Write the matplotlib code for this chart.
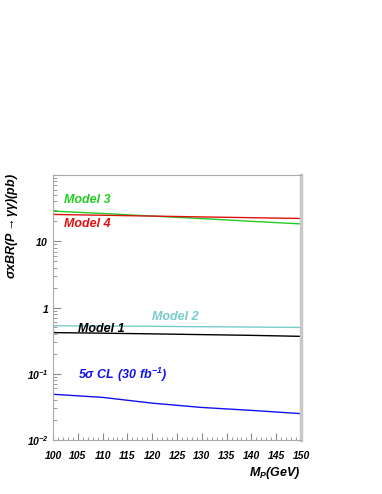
import numpy as np
import matplotlib
matplotlib.use('Agg')
import matplotlib.pyplot as plt
from matplotlib.ticker import FixedLocator, MultipleLocator, LogLocator, NullFormatter

plt.rcParams['font.family'] = ['Liberation Sans', 'DejaVu Sans']
plt.rcParams['mathtext.fontset'] = 'custom'
plt.rcParams['mathtext.bf'] = 'Liberation Sans:italic:bold'
plt.rcParams['mathtext.rm'] = 'Liberation Sans:italic:bold'
plt.rcParams['mathtext.it'] = 'Liberation Sans:italic:bold'

# data
masses = [100, 110, 120, 130, 140, 150]
model1 = [0.418, 0.41, 0.40, 0.39, 0.38, 0.367]
model2 = [0.53, 0.525, 0.52, 0.513, 0.507, 0.50]
model3 = [28.5, 26.3, 24.0, 22.0, 20.0, 18.3]
model4 = [25.4, 24.7, 24.0, 23.3, 22.7, 22.1]
cl5 = [0.049, 0.044, 0.036, 0.031, 0.028, 0.025]

x_ticks = [100, 105, 110, 115, 120, 125, 130, 135, 140, 145, 150]
y_ticks = [0.01, 0.1, 1, 10]
y_ticklabels = [r'$\mathbf{10^{-2}}$', r'$\mathbf{10^{-1}}$', r'$\mathbf{1}$', r'$\mathbf{10}$']

fig = plt.figure(figsize=(3.82, 4.94), dpi=100)
ax = fig.add_axes([0.1387, 0.1093, 0.6493, 0.5364])

ax.plot(masses, model3, color='#22cc22', lw=1.0)
ax.plot(masses, model4, color='#dd1111', lw=1.0)
ax.plot(masses, model2, color='#77cccc', lw=1.0)
ax.plot(masses, model1, color='black', lw=1.0)
ax.plot(masses, cl5, color='#1111ee', lw=1.0)

ax.set_yscale('log')
ax.set_xlim(100, 150)
ax.set_ylim(0.01, 100)

ax.xaxis.set_major_locator(FixedLocator(x_ticks))
ax.xaxis.set_minor_locator(MultipleLocator(1))
ax.set_xticklabels([str(t) for t in x_ticks], fontsize=7.5, fontweight='bold', fontstyle='italic')
ax.yaxis.set_major_locator(FixedLocator(y_ticks + [100]))
ax.set_yticklabels(y_ticklabels + [''], fontsize=7.5)
ax.yaxis.set_minor_locator(LogLocator(base=10, subs=np.arange(2, 10)))
ax.yaxis.set_minor_formatter(NullFormatter())

ax.tick_params(axis='both', which='both', direction='in', color='#888888', top=False, right=False)
ax.tick_params(axis='x', which='major', length=5, pad=8)
ax.tick_params(axis='x', which='minor', length=2.5)
ax.tick_params(axis='y', which='major', length=6, pad=3)
ax.tick_params(axis='y', which='minor', length=3)

for side in ['left', 'bottom', 'top']:
    ax.spines[side].set_color('#aaaaaa')
    ax.spines[side].set_linewidth(0.8)
ax.spines['right'].set_color('#c8c8c8')
ax.spines['right'].set_linewidth(2.5)

lbl = dict(fontsize=9, fontweight='bold', fontstyle='italic')
ax.text(102.2, 41.7, 'Model 3', color='#22cc22', va='center', **lbl)
ax.text(102.2, 18.0, 'Model 4', color='#dd1111', va='center', **lbl)
ax.text(120.0, 0.73, 'Model 2', color='#77cccc', va='center', **lbl)
ax.text(105.0, 0.47, 'Model 1', color='black', va='center', **lbl)
ax.text(105.0, 0.097, r'$\mathbf{5\sigma\ CL\ (30\ fb^{-1})}$', color='#1111ee', va='center', fontsize=9)

fig.text(301 / 382, 1 - 473 / 494, r'$\mathbf{M_{P}(GeV)}$', ha='right', va='center', fontsize=9)
fig.text(12 / 382, 1 - 173 / 494, r'$\mathbf{\sigma xBR(P\rightarrow\gamma\gamma)(pb)}$',
         rotation=90, ha='center', va='top', fontsize=9)

fig.savefig('out.png', dpi=100)
